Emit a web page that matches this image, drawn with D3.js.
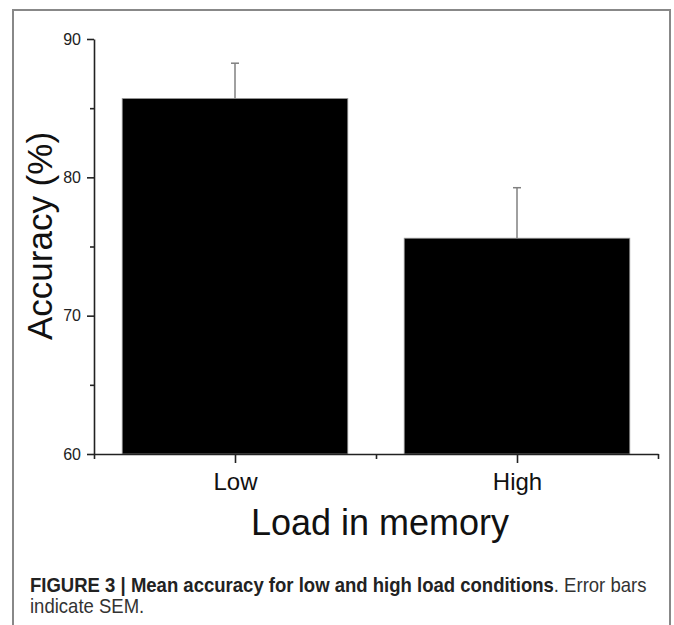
<!DOCTYPE html>
<html lang="en">
<head>
    <meta charset="UTF-8">
    <title>Mean accuracy</title>
    <script src="https://cdn.jsdelivr.net/npm/d3@7"></script>
    <style>
        body { margin: 0; background: #fff; }
        text { font-family: "Liberation Sans", Arial, sans-serif; }
    </style>
</head>
<body>
    <svg id="mainsvg" width="674" height="625"></svg>
    <script>
        // data
        const conditions = ["Low", "High"];
        const meanAccuracy = [85.7, 75.6];
        const sem = [2.55, 3.65];
        const yTicks = [60, 70, 80, 90];
        const yMinorTicks = [65, 75, 85];

        const svg = d3.select("svg");
        const width = +svg.attr('width');
        const height = +svg.attr('height');
        const margin = {top: 39, right: 16, bottom: 171, left: 94};
        const innerWidth = width - margin.left - margin.right;
        const innerHeight = height - margin.top - margin.bottom;

        // frame round the figure (bottom edge is off the picture)
        svg.append("path")
            .attr("d", `M13,${height + 5}V10H670V${height + 5}`)
            .attr("fill", "none")
            .attr("stroke", "#888")
            .attr("stroke-width", 2);

        const g = svg.append('g')
            .attr('id', 'maingroup')
            .attr("transform", `translate(${margin.left}, ${margin.top})`);

        const x = d3.scaleLinear()
            .domain([0.5, conditions.length + 0.5])
            .range([0, innerWidth]);
        const y = d3.scaleLinear()
            .domain([60, 90])
            .range([innerHeight, 0]);
        const barWidth = x(1.4) - x(0.6);

        // bars
        g.selectAll(".bar")
            .data(conditions)
            .join("rect")
            .attr("class", "bar")
            .attr("x", (d, i) => x(i + 1) - barWidth / 2)
            .attr("y", (d, i) => y(meanAccuracy[i]))
            .attr("width", barWidth)
            .attr("height", (d, i) => y(60) - y(meanAccuracy[i]))
            .attr("fill", "#000")
            .attr("stroke", "#999")
            .attr("stroke-width", 0.8);

        // error bars (upper half only)
        const err = g.selectAll(".err")
            .data(conditions)
            .join("g")
            .attr("class", "err")
            .attr("stroke", "#808080")
            .attr("stroke-width", 1.5);
        err.append("line")
            .attr("x1", (d, i) => x(i + 1))
            .attr("x2", (d, i) => x(i + 1))
            .attr("y1", (d, i) => y(meanAccuracy[i]))
            .attr("y2", (d, i) => y(meanAccuracy[i] + sem[i]));
        err.append("line")
            .attr("x1", (d, i) => x(i + 1) - 4)
            .attr("x2", (d, i) => x(i + 1) + 4)
            .attr("y1", (d, i) => y(meanAccuracy[i] + sem[i]))
            .attr("y2", (d, i) => y(meanAccuracy[i] + sem[i]));

        // y axis
        const yAxis = d3.axisLeft(y).tickValues(yTicks).tickSize(7).tickPadding(6).tickSizeOuter(0);
        const yg = g.append("g").call(yAxis);
        yg.selectAll("text").attr("font-size", 16).attr("fill", "#222").attr("font-family", null);
        g.append("g")
            .call(d3.axisLeft(y).tickValues(yMinorTicks).tickSize(4).tickFormat("").tickSizeOuter(0))
            .select(".domain").remove();

        // x axis
        const xAxis = d3.axisBottom(x).tickValues([1, 2]).tickSize(9).tickPadding(10)
            .tickFormat(d => conditions[d - 1]).tickSizeOuter(0);
        const xg = g.append("g").attr("transform", `translate(0, ${innerHeight})`).call(xAxis);
        xg.selectAll("text").attr("font-size", 24).attr("fill", "#111").attr("font-family", null);
        g.append("g").attr("transform", `translate(0, ${innerHeight})`)
            .call(d3.axisBottom(x).tickValues([0.5, 1.5, 2.5]).tickSize(5).tickFormat("").tickSizeOuter(0))
            .select(".domain").remove();
        g.selectAll(".domain, .tick line").attr("stroke", "#222").attr("stroke-width", 1.6);

        // axis titles
        svg.append("text")
            .attr("transform", `translate(52, 236) rotate(-90)`)
            .attr("text-anchor", "middle")
            .attr("font-size", 35)
            .attr("fill", "#111")
            .text("Accuracy (%)");
        svg.append("text")
            .attr("x", margin.left + innerWidth / 2 + 4)
            .attr("y", 535)
            .attr("text-anchor", "middle")
            .attr("font-size", 36)
            .attr("fill", "#111")
            .text("Load in memory");

        // caption, squeezed sideways like the condensed journal font
        const capWidth = 617;
        const capSize = 20;
        const cap = svg.append("text")
            .attr("font-size", capSize).attr("fill", "#333");
        cap.append("tspan").attr("font-weight", "bold").attr("fill", "#222")
            .text("FIGURE 3 | Mean accuracy for low and high load conditions");
        cap.append("tspan").text(". Error bars");
        const sx = capWidth / cap.node().getComputedTextLength();
        cap.attr("transform", `translate(30, 592) scale(${sx}, 1)`);
        svg.append("text")
            .attr("font-size", capSize).attr("fill", "#333")
            .attr("transform", `translate(30, 613) scale(${sx}, 1)`)
            .text("indicate SEM.");
    </script>
</body>
</html>
